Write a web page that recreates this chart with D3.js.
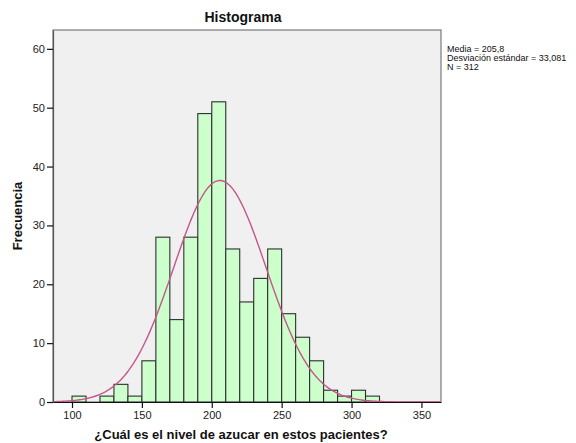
<!DOCTYPE html>
<html>
<head>
<meta charset="utf-8">
<script src="https://cdn.jsdelivr.net/npm/d3@7"></script>
<style>
  body { margin: 0; background: #fff; }
  text { font-family: "Liberation Sans", Arial, sans-serif; }
</style>
</head>
<body>
<script>
const binStarts = [100, 110, 120, 130, 140, 150, 160, 170, 180, 190, 200,
                   210, 220, 230, 240, 250, 260, 270, 280, 290, 300, 310]
const counts = [1, 0, 1, 3, 1, 7, 28, 14, 28, 49, 51,
                26, 17, 21, 26, 15, 11, 7, 2, 1, 2, 1]
const binWidth = 10
const xTicks = [100, 150, 200, 250, 300, 350]
const yTicks = [0, 10, 20, 30, 40, 50, 60]
const mean = 205.8
const sd = 33.081
const n = 312
const statLines = ["Media = 205,8", "Desviación estándar = 33,081", "N = 312"]

const width = 576
const height = 443
const plot = {left: 53, top: 30, right: 441, bottom: 402}

const svg = d3.select("body").append("svg")
  .attr("width", width)
  .attr("height", height)

const x = d3.scaleLinear().domain([86.4, 364]).range([plot.left, plot.right])
const y = d3.scaleLinear().domain([0, 63.2]).range([plot.bottom, plot.top])

svg.append("rect")
  .attr("x", plot.left)
  .attr("y", plot.top)
  .attr("width", plot.right - plot.left)
  .attr("height", plot.bottom - plot.top)
  .attr("fill", "#f0f0f0")
  .attr("stroke", "#7a7a7a")
  .attr("stroke-width", 1.2)

// bars
svg.append("g")
  .selectAll("rect")
  .data(binStarts.map((b, i) => ({b, c: counts[i]})).filter(d => d.c > 0))
  .join("rect")
  .attr("x", d => x(d.b))
  .attr("y", d => y(d.c))
  .attr("width", d => x(d.b + binWidth) - x(d.b))
  .attr("height", d => y(0) - y(d.c))
  .attr("fill", "#ccffcc")
  .attr("stroke", "#2e2e2e")
  .attr("stroke-width", 1.1)

// normal curve from the stats shown
const scaleN = n * binWidth / (sd * Math.sqrt(2 * Math.PI))
const curve = d3.range(86.4, 364.01, 1).map(v => [v, scaleN * Math.exp(-0.5 * ((v - mean) / sd) ** 2)])

svg.append("path")
  .datum(curve)
  .attr("fill", "none")
  .attr("stroke", "#c4568c")
  .attr("stroke-width", 1.4)
  .attr("d", d3.line().x(d => x(d[0])).y(d => y(d[1])))

// axes
const xAxis = svg.append("g")
  .attr("transform", `translate(0,${plot.bottom})`)
  .call(d3.axisBottom(x).tickValues(xTicks).tickSize(6).tickPadding(3).tickSizeOuter(0))
xAxis.select(".domain").attr("stroke", "#111").attr("stroke-width", 1.2)

const yAxis = svg.append("g")
  .attr("transform", `translate(${plot.left},0)`)
  .call(d3.axisLeft(y).tickValues(yTicks).tickSize(6).tickPadding(2).tickSizeOuter(0))
yAxis.select(".domain").attr("stroke", "#555").attr("stroke-width", 1.2)

svg.selectAll(".tick line").attr("stroke", "#111").attr("stroke-width", 1.2)
svg.selectAll(".tick text")
  .attr("fill", "#222")
  .style("font-size", "11px")
  .style("font-family", "Liberation Sans, Arial, sans-serif")

// titles
svg.append("text")
  .attr("x", 243)
  .attr("y", 22)
  .attr("text-anchor", "middle")
  .style("font-size", "14px")
  .style("font-weight", "bold")
  .attr("fill", "#111")
  .text("Histograma")

svg.append("text")
  .attr("x", 241)
  .attr("y", 439)
  .attr("text-anchor", "middle")
  .style("font-size", "13px")
  .style("font-weight", "bold")
  .attr("fill", "#111")
  .text("¿Cuál es el nivel de azucar en estos pacientes?")

svg.append("text")
  .attr("transform", "translate(22,216) rotate(-90)")
  .attr("text-anchor", "middle")
  .style("font-size", "13px")
  .style("font-weight", "bold")
  .attr("fill", "#111")
  .text("Frecuencia")

svg.append("g")
  .selectAll("text")
  .data(statLines)
  .join("text")
  .attr("x", 447)
  .attr("y", (d, i) => 52 + i * 9)
  .style("font-size", "9px")
  .attr("fill", "#111")
  .text(d => d)
</script>
</body>
</html>
